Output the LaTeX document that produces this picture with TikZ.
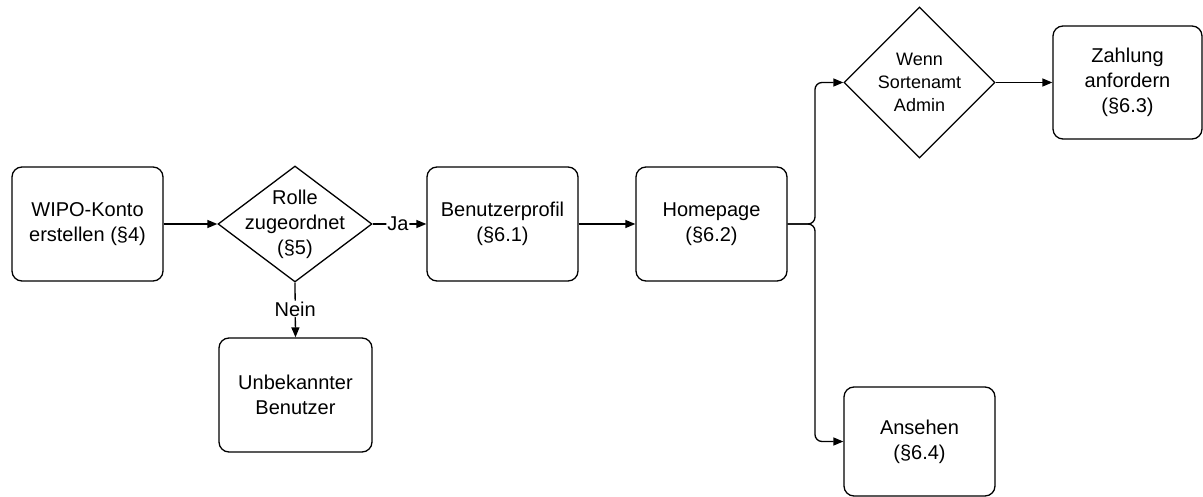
\documentclass[tikz,border=0pt]{standalone}
\usepackage{fontspec}
\setmainfont{Liberation Sans}
\usetikzlibrary{shapes.geometric,arrows.meta}
\begin{document}
\begin{tikzpicture}[x=1pt,y=-1pt,
  box/.style={draw,line width=1.3pt,rounded corners=10pt,inner sep=0pt,align=center,
    font=\fontsize{20}{25}\selectfont},
  dia/.style={draw,line width=1.3pt,diamond,inner sep=0pt},
  txt/.style={align=center,font=\fontsize{20}{25}\selectfont},
  stxt/.style={align=center,font=\fontsize{18}{23}\selectfont},
  conn/.style={line width=1.3pt,-{Triangle[length=10pt,width=8pt]},rounded corners=7pt},
  lbl/.style={fill=white,inner sep=1pt,font=\fontsize{20}{24}\selectfont}
]
\useasboundingbox (0,0) rectangle (1203,497);
\node[box,minimum width=151pt,minimum height=114pt] (wipo) at (87.5,224) {WIPO-Konto\\erstellen (§4)};
\node[dia,minimum width=154pt,minimum height=116pt] (rolle) at (295,224) {};
\node[txt] at (rolle) {Rolle\\zugeordnet\\(§5)};
\node[box,minimum width=151pt,minimum height=114pt] (prof) at (502.5,224) {Benutzerprofil\\(§6.1)};
\node[box,minimum width=151pt,minimum height=114pt] (home) at (711.5,224) {Homepage\\(§6.2)};
\node[box,minimum width=153pt,minimum height=114pt] (unb) at (295.5,395) {Unbekannter\\Benutzer};
\node[dia,minimum width=151pt,minimum height=151pt] (wenn) at (919.5,82.5) {};
\node[stxt] at (wenn) {Wenn\\Sortenamt\\Admin};
\node[box,minimum width=149pt,minimum height=113pt] (zahl) at (1127.5,82.5) {Zahlung\\anfordern\\(§6.3)};
\node[box,minimum width=151pt,minimum height=109pt] (ans) at (919.5,441.5) {Ansehen\\(§6.4)};

\draw[conn] (wipo.east) -- (rolle.west);
\draw[conn] (rolle.east) -- node[lbl,pos=0.47]{Ja} (prof.west);
\draw[conn] (rolle.south) -- node[lbl,pos=0.48]{Nein} (unb.north);
\draw[conn] (prof.east) -- (home.west);
\coordinate (split) at (815,224);
\draw[conn] (home.east) -- (split) |- (wenn.west);
\draw[conn] (home.east) -- (split) |- (ans.west);
\draw[conn] (wenn.east) -- (zahl.west);
\end{tikzpicture}
\end{document}
